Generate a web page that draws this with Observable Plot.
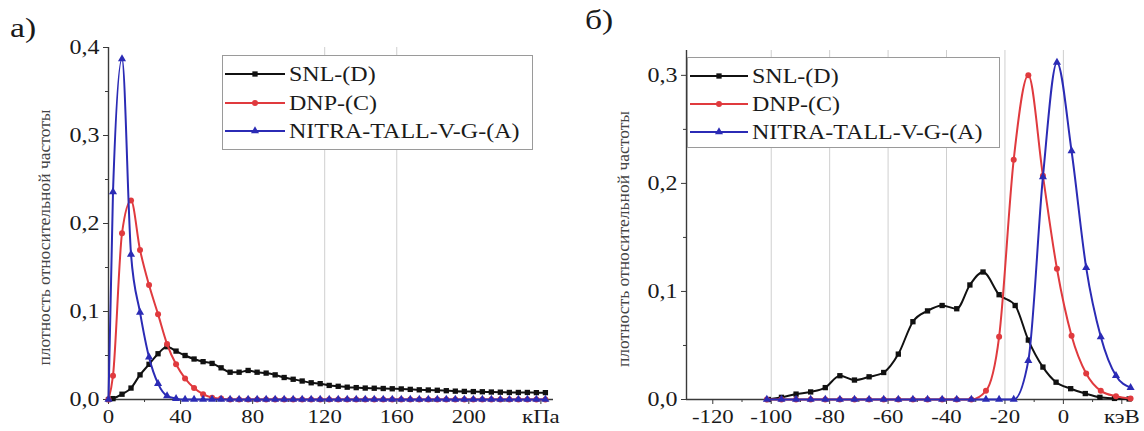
<!DOCTYPE html>
<html><head><meta charset="utf-8">
<script src="https://cdn.jsdelivr.net/npm/d3@7"></script>
<script src="https://cdn.jsdelivr.net/npm/@observablehq/plot@0.6"></script>
<style>
body{margin:0;background:#fff;}
#wrap{position:relative;width:1144px;height:431px;overflow:hidden;font-family:"Liberation Serif",serif;color:#1a1a1a;}
.panel{position:absolute;top:0;}
.plbl{position:absolute;font-size:28px;line-height:1;transform:scaleX(1.2);transform-origin:left top;}
.legend{position:absolute;border:1px solid #9a9a9a;background:#fff;box-sizing:border-box;}
.row{position:absolute;left:0;height:22px;display:flex;align-items:center;white-space:nowrap;}
.row span{font-size:20px;display:inline-block;transform:scaleX(1.2);transform-origin:left center;margin-left:4px;}
</style></head><body><div id="wrap"></div>
<script>
// ---------- data ----------
const seriesNames = ["SNL-(D)", "DNP-(C)", "NITRA-TALL-V-G-(A)"];
const seriesColors = ["#111111", "#e03a3e", "#2b2bb5"];
const seriesSymbols = ["square", "circle", "triangle"];
const yLabel = "плотность относительной частоты";

// panel а): pressure, кПа
const leftX = [0, 2.5, 7.5, 12.5, 17.5, 22.5, 27.5, 32.5, 37.5, 42.5, 47.5, 52.5, 57.5, 62.5, 67.5, 72.5, 77.5, 82.5, 87.5, 92.5, 97.5, 102.5, 107.5, 112.5, 117.5, 122.5, 127.5, 132.5, 137.5, 142.5, 147.5, 152.5, 157.5, 162.5, 167.5, 172.5, 177.5, 182.5, 187.5, 192.5, 197.5, 202.5, 207.5, 212.5, 217.5, 222.5, 227.5, 232.5, 237.5, 242.5];
const leftSNL = [0, 0.001, 0.006, 0.013, 0.028, 0.040, 0.052, 0.060, 0.055, 0.050, 0.046, 0.043, 0.041, 0.036, 0.031, 0.031, 0.033, 0.031, 0.030, 0.028, 0.025, 0.023, 0.021, 0.019, 0.018, 0.016, 0.015, 0.014, 0.0135, 0.013, 0.0128, 0.0125, 0.0122, 0.012, 0.0115, 0.011, 0.0108, 0.0105, 0.010, 0.0095, 0.0092, 0.009, 0.0088, 0.0085, 0.0083, 0.008, 0.008, 0.008, 0.0078, 0.0078];
const leftDNP = [0, 0.027, 0.189, 0.226, 0.170, 0.130, 0.097, 0.063, 0.040, 0.024, 0.013, 0.006, 0.002, 0.001, 0, 0, 0, 0, 0, 0, 0, 0, 0, 0, 0, 0, 0, 0, 0, 0, 0, 0, 0, 0, 0, 0, 0, 0, 0, 0, 0, 0, 0, 0, 0, 0, 0, 0, 0, 0];
const leftNITRA = [0, 0.236, 0.387, 0.165, 0.099, 0.048, 0.018, 0.004, 0.001, 0, 0, 0, 0, 0, 0, 0, 0, 0, 0, 0, 0, 0, 0, 0, 0, 0, 0, 0, 0, 0, 0, 0, 0, 0, 0, 0, 0, 0, 0, 0, 0, 0, 0, 0, 0, 0, 0, 0, 0, 0];
const leftDomainX = [0, 247];
const leftDomainY = [0, 0.4];
const leftTicksX = [0, 40, 80, 120, 160, 200, 240];
const leftMinorX = [20, 60, 100, 140, 180, 220];
const leftGridX = [120, 160];
const leftTicksY = [0, 0.1, 0.2, 0.3, 0.4];
const leftMinorY = [0.05, 0.15, 0.25, 0.35];
const leftUnit = "кПа";

// panel б): energy, кэВ
const rightX_SNL = [-101, -96.5, -91.5, -86.5, -81.5, -76.5, -71.5, -66.5, -61.5, -56.5, -51.5, -46.5, -41.5, -36.5, -32, -27.5, -22, -16.5, -12, -7, -2.5, 2.5, 7.5, 12.5, 17.5, 22.5];
const rightSNL = [0, 0.002, 0.005, 0.007, 0.011, 0.022, 0.018, 0.021, 0.025, 0.042, 0.072, 0.082, 0.087, 0.084, 0.106, 0.118, 0.097, 0.087, 0.055, 0.030, 0.016, 0.010, 0.0055, 0.002, 0.001, 0.0005];
const rightX = [-101.5, -96.5, -91.5, -86.5, -81.5, -76.5, -71.5, -66.5, -61.5, -56.5, -51.5, -46.5, -41.5, -36.5, -31.5, -26.5, -22, -17, -12, -7, -2.2, 2.8, 7.8, 12.8, 18, 23];
const rightDNP = [0, 0, 0, 0, 0, 0, 0, 0, 0, 0, 0, 0, 0, 0, 0, 0.008, 0.058, 0.222, 0.300, 0.207, 0.121, 0.059, 0.024, 0.008, 0.003, 0.001];
const rightNITRA = [0, 0, 0, 0, 0, 0, 0, 0, 0, 0, 0, 0, 0, 0, 0, 0, 0, 0, 0.036, 0.206, 0.312, 0.230, 0.122, 0.058, 0.022, 0.011];
const rightDomainX = [-129, 24];
const rightDomainY = [0, 0.323];
const rightTicksX = [-120, -100, -80, -60, -40, -20, 0, 20];
const rightMinorX = [-110, -90, -70, -50, -30, -10, 10];
const rightGridX = [-100, -80, -60, -40, -20, 0];
const rightTicksY = [0, 0.1, 0.2, 0.3];
const rightMinorY = [0.05, 0.15, 0.25];
const rightUnit = "кэВ";

// ---------- drawing ----------
const fmtY = d => d.toFixed(1).replace(".", ",");
const rows = (xs, ys) => xs.map((x, i) => ({x, y: ys[i]}));

function panel(cfg) {
  const marks = [
    Plot.gridX({ticks: cfg.grid, stroke: "#cfcfcf", strokeOpacity: 1, strokeWidth: 1}),
    Plot.ruleX([cfg.domainX[0]], {stroke: "#3a3a3a", strokeWidth: 1.4}),
    Plot.ruleY([0], {stroke: "#3a3a3a", strokeWidth: 1.4}),
    Plot.axisX({ticks: cfg.ticksX, tickFormat: d => d === cfg.ticksX[cfg.ticksX.length - 1] ? cfg.unit : String(d), tickSize: 5, tickPadding: 5, label: null, fontSize: 19, stroke: "#3a3a3a"}),
    Plot.axisX({ticks: cfg.minorX, tickFormat: () => "", tickSize: 3, label: null, stroke: "#3a3a3a"}),
    Plot.axisY({ticks: cfg.ticksY, tickFormat: fmtY, tickSize: 5, tickPadding: 4, label: null, fontSize: 20, stroke: "#3a3a3a"}),
    Plot.axisY({ticks: cfg.minorY, tickFormat: () => "", tickSize: 3, label: null, stroke: "#3a3a3a"}),
    Plot.text([yLabel], {frameAnchor: "left", textAnchor: "middle", dx: cfg.labelDx, dy: 14, rotate: -90, fontSize: 17.5, fill: "#444"})
  ];
  cfg.series.forEach((s, k) => {
    const data = rows(s.x, s.y);
    marks.push(Plot.line(data, {x: "x", y: "y", stroke: seriesColors[k], strokeWidth: 2, curve: "monotone-x"}));
    marks.push(Plot.dot(data, {x: "x", y: "y", symbol: seriesSymbols[k], fill: seriesColors[k], stroke: "none", r: 3}));
  });
  const svg = Plot.plot({
    width: 572, height: 431,
    marginLeft: cfg.ml, marginRight: cfg.mr, marginTop: cfg.mt, marginBottom: 32,
    x: {domain: cfg.domainX},
    y: {domain: cfg.domainY},
    style: {fontFamily: '"Liberation Serif", serif', fontSize: "18px", color: "#1a1a1a", background: "transparent", overflow: "visible"},
    marks
  });
  // the source image is horizontally stretched: widen upright texts around their anchor
  svg.querySelectorAll("text").forEach(t => {
    const tr = t.getAttribute("transform");
    if (tr && !tr.includes("rotate")) t.setAttribute("transform", tr + " scale(1.2,1)");
  });
  return svg;
}

function legend(left, top, w, h, rowTops, lineW) {
  const box = document.createElement("div");
  box.className = "legend";
  Object.assign(box.style, {left: left + "px", top: top + "px", width: w + "px", height: h + "px"});
  seriesNames.forEach((name, k) => {
    const row = document.createElement("div");
    row.className = "row";
    row.style.top = (rowTops[k] - 11) + "px";
    row.style.left = "2px";
    const s = d3.create("svg").attr("width", lineW).attr("height", 22);
    s.append("line").attr("x1", 0).attr("x2", lineW).attr("y1", 11).attr("y2", 11)
      .attr("stroke", seriesColors[k]).attr("stroke-width", 2);
    const sym = d3.symbol().type(k === 0 ? d3.symbolSquare : k === 1 ? d3.symbolCircle : d3.symbolTriangle).size(28);
    s.append("path").attr("d", sym()).attr("transform", `translate(${lineW / 2},11)`).attr("fill", seriesColors[k]);
    row.appendChild(s.node());
    const sp = document.createElement("span");
    sp.textContent = name;
    row.appendChild(sp);
    box.appendChild(row);
  });
  return box;
}

const wrap = document.getElementById("wrap");

const leftDiv = document.createElement("div");
leftDiv.className = "panel"; leftDiv.style.left = "0px";
leftDiv.appendChild(panel({
  domainX: leftDomainX, domainY: leftDomainY, ticksX: leftTicksX, minorX: leftMinorX, grid: leftGridX,
  ticksY: leftTicksY, minorY: leftMinorY, unit: leftUnit, ml: 108, mr: 19, mt: 47, labelDx: -64,
  series: [{x: leftX, y: leftSNL}, {x: leftX, y: leftDNP}, {x: leftX, y: leftNITRA}]
}));
wrap.appendChild(leftDiv);

const rightDiv = document.createElement("div");
rightDiv.className = "panel"; rightDiv.style.left = "572px";
rightDiv.appendChild(panel({
  domainX: rightDomainX, domainY: rightDomainY, ticksX: rightTicksX, minorX: rightMinorX, grid: rightGridX,
  ticksY: rightTicksY, minorY: rightMinorY, unit: rightUnit, ml: 114, mr: 11, mt: 50, labelDx: -63,
  series: [{x: rightX_SNL, y: rightSNL}, {x: rightX, y: rightDNP}, {x: rightX, y: rightNITRA}]
}));
wrap.appendChild(rightDiv);

wrap.appendChild(legend(222, 55, 311, 95, [18, 47, 75], 60));
wrap.appendChild(legend(687, 57, 313, 91, [18, 46, 74], 58));

const la = document.createElement("div");
la.className = "plbl"; la.textContent = "а)";
Object.assign(la.style, {left: "10px", top: "14px"});
wrap.appendChild(la);
const lb = document.createElement("div");
lb.className = "plbl"; lb.textContent = "б)";
Object.assign(lb.style, {left: "585px", top: "6px"});
wrap.appendChild(lb);
</script>
</body></html>
